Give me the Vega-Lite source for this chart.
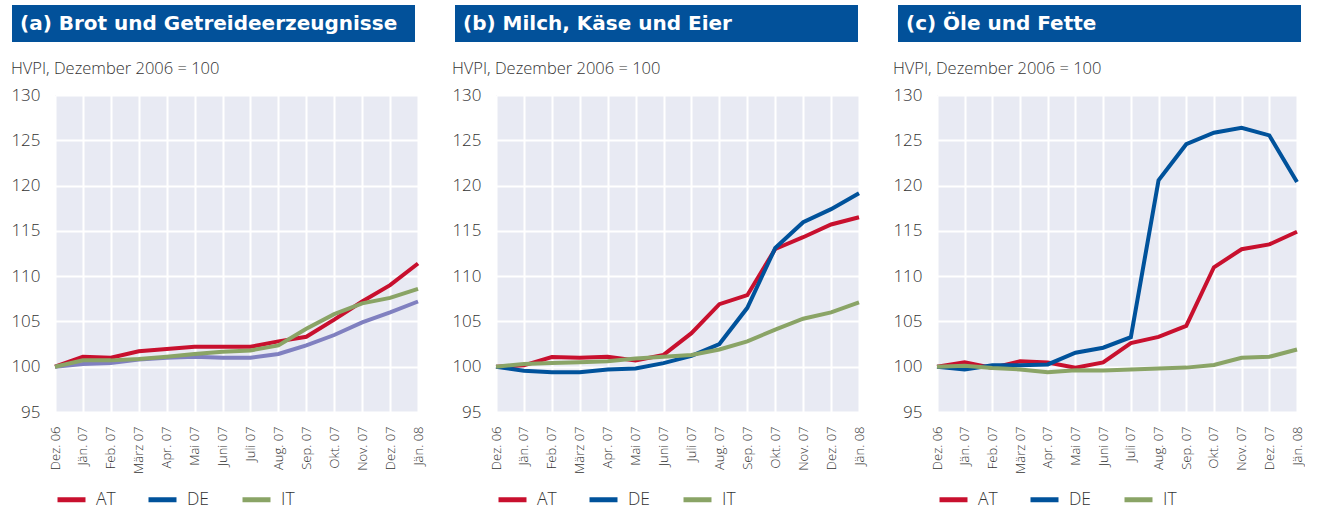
{
  "$schema": "https://vega.github.io/schema/vega-lite/v6.json",
  "padding": {"left": 10, "top": 5, "right": 0, "bottom": 0},
  "background": "white",
  "config": {
    "font": "Open Sans",
    "view": {"stroke": null, "fill": "#e8eaf3"},
    "axis": {"labelColor": "#333333", "labelFont": "Open Sans", "labelFontWeight": 300, "ticks": false, "tickSize": 0, "domain": false, "grid": true, "gridColor": "#ffffff", "gridWidth": 2, "gridOpacity": 1, "title": null},
    "legend": {"labelFont": "Open Sans", "labelFontWeight": 300}
  },
  "datasets": {
    "hvpi": [
      {"panel": "a", "monat": "Dez. 06", "AT": 100, "DE": 100, "IT": 100},
      {"panel": "a", "monat": "Jän. 07", "AT": 101.1, "DE": 100.3, "IT": 100.7},
      {"panel": "a", "monat": "Feb. 07", "AT": 101.0, "DE": 100.4, "IT": 100.7},
      {"panel": "a", "monat": "März 07", "AT": 101.7, "DE": 100.8, "IT": 100.85},
      {"panel": "a", "monat": "Apr. 07", "AT": 101.95, "DE": 101.0, "IT": 101.1},
      {"panel": "a", "monat": "Mai 07", "AT": 102.2, "DE": 101.1, "IT": 101.4},
      {"panel": "a", "monat": "Juni 07", "AT": 102.2, "DE": 101.0, "IT": 101.65},
      {"panel": "a", "monat": "Juli 07", "AT": 102.2, "DE": 101.0, "IT": 101.8},
      {"panel": "a", "monat": "Aug. 07", "AT": 102.8, "DE": 101.4, "IT": 102.35},
      {"panel": "a", "monat": "Sep. 07", "AT": 103.3, "DE": 102.35, "IT": 104.2},
      {"panel": "a", "monat": "Okt. 07", "AT": 105.2, "DE": 103.5, "IT": 105.8},
      {"panel": "a", "monat": "Nov. 07", "AT": 107.2, "DE": 104.9, "IT": 107.0},
      {"panel": "a", "monat": "Dez. 07", "AT": 109.0, "DE": 106.0, "IT": 107.6},
      {"panel": "a", "monat": "Jän. 08", "AT": 111.4, "DE": 107.2, "IT": 108.6},
      {"panel": "b", "monat": "Dez. 06", "AT": 100, "DE": 100, "IT": 100},
      {"panel": "b", "monat": "Jän. 07", "AT": 100.15, "DE": 99.55, "IT": 100.3},
      {"panel": "b", "monat": "Feb. 07", "AT": 101.07, "DE": 99.4, "IT": 100.4},
      {"panel": "b", "monat": "März 07", "AT": 101.0, "DE": 99.4, "IT": 100.5},
      {"panel": "b", "monat": "Apr. 07", "AT": 101.1, "DE": 99.7, "IT": 100.6},
      {"panel": "b", "monat": "Mai 07", "AT": 100.7, "DE": 99.8, "IT": 100.9},
      {"panel": "b", "monat": "Juni 07", "AT": 101.3, "DE": 100.4, "IT": 101.1},
      {"panel": "b", "monat": "Juli 07", "AT": 103.7, "DE": 101.2, "IT": 101.3},
      {"panel": "b", "monat": "Aug. 07", "AT": 106.9, "DE": 102.5, "IT": 101.9},
      {"panel": "b", "monat": "Sep. 07", "AT": 107.9, "DE": 106.5, "IT": 102.8},
      {"panel": "b", "monat": "Okt. 07", "AT": 113.0, "DE": 113.1, "IT": 104.1},
      {"panel": "b", "monat": "Nov. 07", "AT": 114.3, "DE": 115.95, "IT": 105.3},
      {"panel": "b", "monat": "Dez. 07", "AT": 115.7, "DE": 117.4, "IT": 106.0},
      {"panel": "b", "monat": "Jän. 08", "AT": 116.5, "DE": 119.15, "IT": 107.1},
      {"panel": "c", "monat": "Dez. 06", "AT": 100.0, "DE": 100.0, "IT": 100.0},
      {"panel": "c", "monat": "Jän. 07", "AT": 100.5, "DE": 99.7, "IT": 100.1},
      {"panel": "c", "monat": "Feb. 07", "AT": 99.86, "DE": 100.15, "IT": 99.86},
      {"panel": "c", "monat": "März 07", "AT": 100.6, "DE": 100.15, "IT": 99.7},
      {"panel": "c", "monat": "Apr. 07", "AT": 100.47, "DE": 100.25, "IT": 99.4},
      {"panel": "c", "monat": "Mai 07", "AT": 99.9, "DE": 101.55, "IT": 99.6},
      {"panel": "c", "monat": "Juni 07", "AT": 100.47, "DE": 102.1, "IT": 99.57},
      {"panel": "c", "monat": "Juli 07", "AT": 102.6, "DE": 103.26, "IT": 99.7},
      {"panel": "c", "monat": "Aug. 07", "AT": 103.3, "DE": 120.58, "IT": 99.8},
      {"panel": "c", "monat": "Sep. 07", "AT": 104.5, "DE": 124.57, "IT": 99.9},
      {"panel": "c", "monat": "Okt. 07", "AT": 110.98, "DE": 125.83, "IT": 100.2},
      {"panel": "c", "monat": "Nov. 07", "AT": 112.97, "DE": 126.38, "IT": 100.98},
      {"panel": "c", "monat": "Dez. 07", "AT": 113.5, "DE": 125.54, "IT": 101.1},
      {"panel": "c", "monat": "Jän. 08", "AT": 114.9, "DE": 120.4, "IT": 101.9}
    ]
  },
  "spacing": 18,
  "columns": 1,
  "align": "none",
  "resolve": {"legend": {"color": "independent"}},
  "concat": [
    {
      "spacing": 40,
      "hconcat": [
        {
          "width": 360, "height": 37,
          "view": {"fill": null, "stroke": null},
          "data": {"values": [{"titel": "(a) Brot und Getreideerzeugnisse"}]},
          "layer": [
            {"mark": {"type": "rect", "color": "#02519a"},
             "encoding": {"x": {"datum": -43, "type": "quantitative", "scale": {"domain": [0, 360], "nice": false, "zero": false}, "axis": null}, "x2": {"datum": 360}}},
            {"mark": {"type": "text", "align": "left", "baseline": "middle", "fontSize": 20, "fontWeight": "bold", "color": "#ffffff", "font": "DejaVu Sans"},
             "encoding": {"x": {"datum": -35, "type": "quantitative", "scale": {"domain": [0, 360], "nice": false, "zero": false}, "axis": null}, "text": {"field": "titel"}}}
          ]
        },
        {
          "width": 360, "height": 37,
          "view": {"fill": null, "stroke": null},
          "data": {"values": [{"titel": "(b) Milch, Käse und Eier"}]},
          "layer": [
            {"mark": {"type": "rect", "color": "#02519a"},
             "encoding": {"x": {"datum": -43, "type": "quantitative", "scale": {"domain": [0, 360], "nice": false, "zero": false}, "axis": null}, "x2": {"datum": 360}}},
            {"mark": {"type": "text", "align": "left", "baseline": "middle", "fontSize": 20, "fontWeight": "bold", "color": "#ffffff", "font": "DejaVu Sans"},
             "encoding": {"x": {"datum": -35, "type": "quantitative", "scale": {"domain": [0, 360], "nice": false, "zero": false}, "axis": null}, "text": {"field": "titel"}}}
          ]
        },
        {
          "width": 360, "height": 37,
          "view": {"fill": null, "stroke": null},
          "data": {"values": [{"titel": "(c) Öle und Fette"}]},
          "layer": [
            {"mark": {"type": "rect", "color": "#02519a"},
             "encoding": {"x": {"datum": -43, "type": "quantitative", "scale": {"domain": [0, 360], "nice": false, "zero": false}, "axis": null}, "x2": {"datum": 360}}},
            {"mark": {"type": "text", "align": "left", "baseline": "middle", "fontSize": 20, "fontWeight": "bold", "color": "#ffffff", "font": "DejaVu Sans"},
             "encoding": {"x": {"datum": -35, "type": "quantitative", "scale": {"domain": [0, 360], "nice": false, "zero": false}, "axis": null}, "text": {"field": "titel"}}}
          ]
        }
      ]
    },
    {
      "spacing": 25,
      "resolve": {"legend": {"color": "independent"}},
      "hconcat": [
        {
          "width": 363, "height": 317,
          "data": {"name": "hvpi"},
          "transform": [{"filter": "datum.panel === 'a'"}, {"fold": ["AT", "DE", "IT"], "as": ["land", "wert"]}],
          "title": {"text": "HVPI, Dezember 2006 = 100", "anchor": "start", "baseline": "alphabetic", "offset": -4, "fontSize": 16.5, "fontWeight": 300, "color": "#333333", "font": "Open Sans"},
          "mark": {"type": "line", "strokeWidth": 4},
          "encoding": {
            "x": {"field": "monat", "type": "ordinal", "sort": ["Dez. 06", "Jän. 07", "Feb. 07", "März 07", "Apr. 07", "Mai 07", "Juni 07", "Juli 07", "Aug. 07", "Sep. 07", "Okt. 07", "Nov. 07", "Dez. 07", "Jän. 08"], "scale": {"type": "point", "padding": 0}, "axis": {"labelAngle": -90, "labelPadding": 14, "labelFontSize": 13}},
            "y": {"field": "wert", "type": "quantitative", "scale": {"domain": [95, 130], "nice": false, "zero": false}, "axis": {"values": [95, 100, 105, 110, 115, 120, 125, 130], "labelPadding": 15, "labelFontSize": 17}},
            "color": {
              "field": "land", "type": "nominal",
              "condition": {"test": "datum.land === 'DE'", "value": "#8080c0"},
              "scale": {"domain": ["AT", "DE", "IT"], "range": ["#c8102e", "#00529b", "#8aa466"]},
              "legend": {"title": null, "orient": "bottom", "direction": "horizontal", "symbolType": "stroke", "symbolSize": 784, "symbolStrokeWidth": 5, "labelFontSize": 17.5, "labelColor": "#333333", "labelOffset": 8, "columnPadding": 22, "offset": 9}
            }
          }
        },
        {
          "width": 363, "height": 317,
          "data": {"name": "hvpi"},
          "transform": [{"filter": "datum.panel === 'b'"}, {"fold": ["AT", "DE", "IT"], "as": ["land", "wert"]}],
          "title": {"text": "HVPI, Dezember 2006 = 100", "anchor": "start", "baseline": "alphabetic", "offset": -4, "fontSize": 16.5, "fontWeight": 300, "color": "#333333", "font": "Open Sans"},
          "mark": {"type": "line", "strokeWidth": 4},
          "encoding": {
            "x": {"field": "monat", "type": "ordinal", "sort": ["Dez. 06", "Jän. 07", "Feb. 07", "März 07", "Apr. 07", "Mai 07", "Juni 07", "Juli 07", "Aug. 07", "Sep. 07", "Okt. 07", "Nov. 07", "Dez. 07", "Jän. 08"], "scale": {"type": "point", "padding": 0}, "axis": {"labelAngle": -90, "labelPadding": 14, "labelFontSize": 13}},
            "y": {"field": "wert", "type": "quantitative", "scale": {"domain": [95, 130], "nice": false, "zero": false}, "axis": {"values": [95, 100, 105, 110, 115, 120, 125, 130], "labelPadding": 15, "labelFontSize": 17}},
            "color": {
              "field": "land", "type": "nominal",
              "scale": {"domain": ["AT", "DE", "IT"], "range": ["#c8102e", "#00529b", "#8aa466"]},
              "legend": {"title": null, "orient": "bottom", "direction": "horizontal", "symbolType": "stroke", "symbolSize": 784, "symbolStrokeWidth": 5, "labelFontSize": 17.5, "labelColor": "#333333", "labelOffset": 8, "columnPadding": 22, "offset": 9}
            }
          }
        },
        {
          "width": 360, "height": 317,
          "data": {"name": "hvpi"},
          "transform": [{"filter": "datum.panel === 'c'"}, {"fold": ["AT", "DE", "IT"], "as": ["land", "wert"]}],
          "title": {"text": "HVPI, Dezember 2006 = 100", "anchor": "start", "baseline": "alphabetic", "offset": -4, "fontSize": 16.5, "fontWeight": 300, "color": "#333333", "font": "Open Sans"},
          "mark": {"type": "line", "strokeWidth": 4},
          "encoding": {
            "x": {"field": "monat", "type": "ordinal", "sort": ["Dez. 06", "Jän. 07", "Feb. 07", "März 07", "Apr. 07", "Mai 07", "Juni 07", "Juli 07", "Aug. 07", "Sep. 07", "Okt. 07", "Nov. 07", "Dez. 07", "Jän. 08"], "scale": {"type": "point", "padding": 0}, "axis": {"labelAngle": -90, "labelPadding": 14, "labelFontSize": 13}},
            "y": {"field": "wert", "type": "quantitative", "scale": {"domain": [95, 130], "nice": false, "zero": false}, "axis": {"values": [95, 100, 105, 110, 115, 120, 125, 130], "labelPadding": 15, "labelFontSize": 17}},
            "color": {
              "field": "land", "type": "nominal",
              "scale": {"domain": ["AT", "DE", "IT"], "range": ["#c8102e", "#00529b", "#8aa466"]},
              "legend": {"title": null, "orient": "bottom", "direction": "horizontal", "symbolType": "stroke", "symbolSize": 784, "symbolStrokeWidth": 5, "labelFontSize": 17.5, "labelColor": "#333333", "labelOffset": 8, "columnPadding": 22, "offset": 9}
            }
          }
        }
      ]
    }
  ]
}
